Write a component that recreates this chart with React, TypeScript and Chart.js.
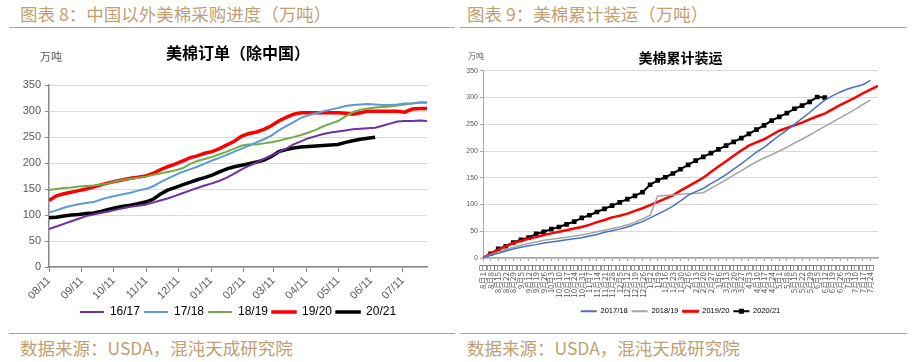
import React, { useEffect, useRef } from 'react';
import { Chart, registerables } from 'chart.js';

Chart.register(...registerables);

const LAT = '"Liberation Sans", Arial, sans-serif';
const CJK = '"Noto Sans CJK SC", "Noto Sans", sans-serif';
const GOLD_TEXT = '#BFA073';
const GOLD_LINE = '#C2A266';

// ---------- Left chart: 美棉订单（除中国） weekly, starting 08/11 ----------
const orderMonthTicks = ['08/11', '09/11', '10/11', '11/11', '12/11', '01/11', '02/11', '03/11', '04/11', '05/11', '06/11', '07/11'];
const orderSeriesLabels = ['16/17', '17/18', '18/19', '19/20', '20/21'];

const orders1617 = [73, 78, 83, 88, 93, 98, 101, 104, 107, 110, 113, 116, 118, 120, 124, 128, 132, 137, 142, 147, 152, 157, 161, 166, 172, 180, 188, 195, 201, 208, 215, 221, 228, 236, 242, 248, 252, 256, 259, 261, 263, 265, 266, 267, 268, 272, 276, 280, 281, 281, 282, 281];
const orders1718 = [105, 109, 114, 118, 121, 123, 125, 130, 134, 137, 140, 143, 147, 150, 155, 163, 170, 177, 183, 188, 193, 199, 205, 210, 216, 222, 228, 234, 240, 246, 253, 263, 271, 279, 287, 292, 296, 300, 303, 306, 310, 312, 313, 314, 313, 312, 312, 313, 315, 315, 316, 316];
const orders1819 = [148, 150, 152, 153, 155, 156, 157, 159, 161, 165, 168, 170, 172, 174, 177, 180, 183, 186, 190, 198, 204, 208, 212, 217, 222, 228, 234, 236, 236, 238, 240, 243, 247, 250, 254, 259, 264, 271, 276, 281, 290, 298, 303, 305, 307, 308, 309, 311, 313, 315, 317, 317];
const orders1920 = [128, 137, 141, 144, 147, 150, 154, 158, 162, 165, 168, 171, 173, 175, 180, 187, 193, 198, 204, 210, 214, 219, 222, 228, 235, 242, 252, 257, 260, 265, 272, 281, 288, 294, 297, 297, 297, 297, 297, 297, 296, 294, 297, 300, 300, 300, 300, 300, 298, 304, 305, 305];
const orders2021 = [95, 96, 98, 100, 101, 103, 104, 107, 111, 114, 117, 119, 122, 125, 130, 140, 148, 153, 158, 163, 168, 172, 177, 183, 189, 193, 196, 199, 202, 206, 213, 222, 226, 229, 231, 232, 233, 234, 235, 236, 240, 243, 246, 248, 250];
const orderColors = ['#7030A0', '#5B9BD5', '#70AD47', '#FF0000', '#000000'];
const orderWidths = [2, 2, 2, 3.5, 3.5];

// ---------- Right chart: 美棉累计装运 weekly ----------
const shipWeekLabels = ['8月1日', '8月8日', '8月15日', '8月22日', '8月29日', '9月5日', '9月12日', '9月19日', '9月26日', '10月3日', '10月10日', '10月17日', '10月24日', '10月31日', '11月7日', '11月14日', '11月21日', '11月28日', '12月5日', '12月12日', '12月19日', '12月26日', '1月2日', '1月9日', '1月16日', '1月23日', '1月30日', '2月6日', '2月13日', '2月20日', '2月27日', '3月6日', '3月13日', '3月20日', '3月27日', '4月3日', '4月10日', '4月17日', '4月24日', '5月1日', '5月8日', '5月15日', '5月22日', '5月29日', '6月5日', '6月12日', '6月19日', '6月26日', '7月3日', '7月10日', '7月17日', '7月24日'];
const shipSeriesLabels = ['2017/18', '2018/19', '2019/20', '2020/21'];

const ship1718 = [0, 5, 9, 13, 17, 20, 23, 25, 28, 30, 32, 34, 36, 38, 41, 44, 48, 51, 54, 58, 63, 68, 75, 82, 89, 97, 107, 117, 124, 130, 139, 147, 156, 166, 176, 187, 198, 207, 218, 229, 239, 250, 261, 272, 284, 295, 303, 310, 316, 320, 324, 332];
const ship1819 = [0, 6, 11, 16, 20, 24, 27, 30, 33, 35, 37, 39, 41, 43, 46, 49, 52, 55, 58, 62, 67, 73, 80, 116, 117, 118, 119, 120, 121, 122, 130, 138, 146, 155, 163, 172, 180, 187, 193, 200, 207, 215, 222, 230, 238, 246, 254, 262, 270, 278, 287, 295];
const ship1920 = [0, 8, 15, 22, 28, 32, 36, 39, 43, 46, 49, 52, 55, 58, 62, 67, 71, 76, 79, 83, 88, 93, 99, 105, 111, 117, 126, 134, 142, 150, 161, 171, 181, 191, 201, 210, 216, 222, 230, 238, 243, 248, 253, 259, 265, 270, 278, 286, 293, 300, 308, 315, 322];
const ship2021 = [0, 8, 17, 22, 29, 34, 38, 45, 49, 54, 58, 63, 68, 75, 80, 86, 92, 98, 104, 110, 116, 123, 137, 145, 151, 158, 166, 174, 182, 189, 196, 203, 210, 217, 224, 232, 240, 248, 257, 264, 271, 279, 285, 292, 301, 300];
const shipColors = ['#4472C4', '#A5A5A5', '#FF0000', '#000000'];
const shipWidths = [1.5, 1.5, 2.5, 2];

function dayOffset(label: string): number {
  const [m, d] = label.split('/').map(Number);
  const year = m >= 8 ? 2018 : 2019;
  return (Date.UTC(year, m - 1, d) - Date.UTC(2018, 7, 11)) / 86400000;
}
const orderTickDays = orderMonthTicks.map(dayOffset);

const unitPlugin = (x: number, y: number, size: number) => ({
  id: 'unitLabel',
  afterDraw(chart: any) {
    const ctx = chart.ctx;
    ctx.save();
    ctx.font = `${size}px ${CJK}`;
    ctx.fillStyle = '#595959';
    ctx.textBaseline = 'middle';
    ctx.textAlign = 'left';
    ctx.fillText('万吨', x, y);
    ctx.restore();
  },
});

const legendMarkerPlugin = {
  id: 'legendMarker',
  afterDraw(chart: any) {
    const lg = chart.legend;
    if (!lg || !lg.legendHitBoxes) return;
    const hb = lg.legendHitBoxes[3];
    if (!hb) return;
    const bw = lg.options.labels.boxWidth;
    const ctx = chart.ctx;
    ctx.save();
    ctx.fillStyle = '#000';
    const cx = hb.left + bw / 2;
    const cy = hb.top + hb.height / 2;
    ctx.fillRect(cx - 2.5, cy - 2.5, 5, 5);
    ctx.restore();
  },
};

function LeftChart() {
  const ref = useRef<HTMLCanvasElement>(null);
  useEffect(() => {
    const all = [orders1617, orders1718, orders1819, orders1920, orders2021];
    const chart = new Chart(ref.current as HTMLCanvasElement, {
      type: 'line',
      data: {
        datasets: all.map((arr, k) => ({
          label: orderSeriesLabels[k],
          data: arr.map((v, i) => ({ x: i * 7, y: v })),
          borderColor: orderColors[k],
          backgroundColor: orderColors[k],
          borderWidth: orderWidths[k],
          pointRadius: 0,
          tension: 0,
        })),
      },
      options: {
        responsive: false,
        animation: false,
        layout: { padding: { left: 0, right: 33, top: 0, bottom: 4 } },
        plugins: {
          title: {
            display: true,
            fullSize: false,
            text: '美棉订单（除中国）',
            color: '#000',
            font: { family: CJK, size: 16, weight: 'bold' },
            padding: { top: 13, bottom: 23 },
          },
          legend: {
            position: 'bottom',
            fullSize: false,
            labels: {
              boxWidth: 24,
              boxHeight: 2,
              padding: 4,
              color: '#595959',
              font: { family: LAT, size: 12 },
              generateLabels: (c: any) =>
                c.data.datasets.map((ds: any, i: number) => ({
                  text: ds.label,
                  fillStyle: ds.borderColor,
                  strokeStyle: ds.borderColor,
                  lineWidth: ds.borderWidth > 2.5 ? 1.5 : 0,
                  hidden: false,
                  datasetIndex: i,
                })),
            },
          },
          tooltip: { enabled: false },
        },
        scales: {
          x: {
            type: 'linear',
            min: 0,
            max: 357,
            afterBuildTicks: (s: any) => {
              s.ticks = orderTickDays.map((v) => ({ value: v }));
            },
            ticks: {
              autoSkip: false,
              minRotation: 45,
              maxRotation: 45,
              padding: 2,
              color: '#595959',
              font: { family: LAT, size: 11 },
              callback: (v: any) => {
                const idx = orderTickDays.indexOf(Number(v));
                return idx >= 0 ? orderMonthTicks[idx] : '';
              },
            },
            grid: { drawOnChartArea: false, tickLength: 5, color: '#898989', tickColor: '#898989' },
            border: { color: '#898989', width: 1.5 },
            afterFit: (s: any) => {
              s.height = 35;
            },
          },
          y: {
            min: 0,
            max: 350,
            ticks: { stepSize: 50, padding: 4, color: '#595959', font: { family: LAT, size: 11 } },
            grid: { color: '#D9D9D9', tickColor: '#898989', tickLength: 4 },
            border: { color: '#898989', width: 1.5 },
            afterFit: (s: any) => {
              s.width = 49;
            },
          },
        },
      } as any,
      plugins: [unitPlugin(40, 27, 11)],
    });
    return () => chart.destroy();
  }, []);
  return <canvas ref={ref} width={460} height={302} style={{ position: 'absolute', left: 0, top: 30 }} />;
}

function RightChart() {
  const ref = useRef<HTMLCanvasElement>(null);
  useEffect(() => {
    const all = [ship1718, ship1819, ship1920, ship2021];
    const chart = new Chart(ref.current as HTMLCanvasElement, {
      type: 'line',
      data: {
        datasets: all.map((arr, k) => ({
          label: shipSeriesLabels[k],
          data: arr.map((v, i) => ({ x: i, y: v })),
          borderColor: shipColors[k],
          backgroundColor: shipColors[k],
          borderWidth: shipWidths[k],
          pointRadius: k === 3 ? arr.map((_, i) => (i === 0 ? 0 : 3.3)) : 0,
          pointStyle: 'rect',
          pointBorderWidth: 0,
          tension: 0,
        })),
      },
      options: {
        responsive: false,
        animation: false,
        layout: { padding: { left: 0, right: 36, top: 0, bottom: 7 } },
        plugins: {
          title: {
            display: true,
            text: '美棉累计装运',
            color: '#000',
            fullSize: false,
            font: { family: CJK, size: 14, weight: 'bold' },
            padding: { top: 19, bottom: 5 },
          },
          legend: {
            position: 'bottom',
            fullSize: false,
            labels: {
              boxWidth: 16,
              boxHeight: 2,
              padding: 4,
              color: '#595959',
              font: { family: LAT, size: 7.5 },
              generateLabels: (c: any) =>
                c.data.datasets.map((ds: any, i: number) => ({
                  text: ds.label,
                  fillStyle: ds.borderColor,
                  strokeStyle: ds.borderColor,
                  lineWidth: ds.borderWidth > 2.2 ? 1 : 0,
                  hidden: false,
                  datasetIndex: i,
                })),
            },
          },
          tooltip: { enabled: false },
        },
        scales: {
          x: {
            type: 'linear',
            min: 0,
            max: 52,
            afterBuildTicks: (s: any) => {
              s.ticks = shipWeekLabels.map((_, i) => ({ value: i }));
            },
            ticks: {
              autoSkip: false,
              minRotation: 90,
              maxRotation: 90,
              padding: 3,
              color: '#595959',
              font: { family: CJK, size: 8 },
              callback: (v: any) => shipWeekLabels[Number(v)] ?? '',
            },
            grid: { drawOnChartArea: false, tickLength: 3, color: '#A6A6A6', tickColor: '#A6A6A6' },
            border: { color: '#A6A6A6', width: 1.5 },
            afterFit: (s: any) => {
              s.height = 45.5;
            },
          },
          y: {
            min: 0,
            max: 350,
            ticks: { stepSize: 50, padding: 2, color: '#595959', font: { family: LAT, size: 7 } },
            grid: { color: '#D9D9D9', tickColor: '#A6A6A6', tickLength: 3 },
            border: { color: '#A6A6A6', width: 1 },
            afterFit: (s: any) => {
              s.width = 23;
            },
          },
        },
      } as any,
      plugins: [unitPlugin(8, 26, 8), legendMarkerPlugin],
    });
    return () => chart.destroy();
  }, []);
  return <canvas ref={ref} width={454} height={302} style={{ position: 'absolute', left: 460, top: 30 }} />;
}

const headerStyle: React.CSSProperties = {
  position: 'absolute',
  top: 2,
  fontFamily: CJK,
  fontSize: 17.5,
  lineHeight: '24px',
  color: GOLD_TEXT,
  whiteSpace: 'nowrap',
};
const footerStyle: React.CSSProperties = {
  position: 'absolute',
  top: 337,
  fontFamily: CJK,
  fontSize: 17.5,
  lineHeight: '22px',
  color: GOLD_TEXT,
  whiteSpace: 'nowrap',
};
const lineStyle = (left: number, top: number, width: number): React.CSSProperties => ({
  position: 'absolute',
  left,
  top,
  width,
  height: 0,
  borderTop: `1.5px solid ${GOLD_LINE}`,
});

export default function App() {
  return (
    <div style={{ position: 'absolute', left: 0, top: 0, width: 914, height: 362, background: '#fff', overflow: 'hidden' }}>
      <div style={{ ...headerStyle, left: 20 }}>图表 8：中国以外美棉采购进度（万吨）</div>
      <div style={{ ...headerStyle, left: 467 }}>图表 9：美棉累计装运（万吨）</div>
      <div style={lineStyle(9, 27, 446)} />
      <div style={lineStyle(460, 27, 447)} />
      <LeftChart />
      <RightChart />
      <div style={lineStyle(9, 333, 446)} />
      <div style={lineStyle(460, 333, 447)} />
      <div style={{ ...footerStyle, left: 20 }}>数据来源：USDA，混沌天成研究院</div>
      <div style={{ ...footerStyle, left: 467 }}>数据来源：USDA，混沌天成研究院</div>
    </div>
  );
}
